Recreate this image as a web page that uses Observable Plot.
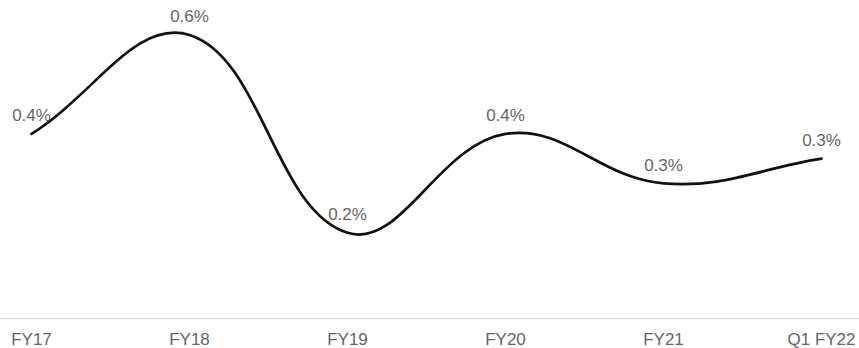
<!DOCTYPE html>
<html>
<head>
<meta charset="utf-8">
<script src="https://cdn.jsdelivr.net/npm/d3@7"></script>
<script src="https://cdn.jsdelivr.net/npm/@observablehq/plot@0.6"></script>
<style>
  html, body { margin: 0; padding: 0; background: #fff; }
  #chart { width: 859px; height: 348px; overflow: hidden; }
</style>
</head>
<body>
<div id="chart"></div>
<script>
const periods = ["FY17", "FY18", "FY19", "FY20", "FY21", "Q1 FY22"];
const values = [0.40, 0.60, 0.20, 0.40, 0.30, 0.35];
const valueLabels = ["0.4%", "0.6%", "0.2%", "0.4%", "0.3%", "0.3%"];

const data = periods.map((p, i) => ({period: p, value: values[i], label: valueLabels[i]}));

// spline with distance-weighted tangents (tension 0.4)
function splineCurve(context) {
  let pts = [];
  const t = 0.4;
  return {
    areaStart() {}, areaEnd() {},
    lineStart() { pts = []; },
    point(x, y) { pts.push([+x, +y]); },
    lineEnd() {
      const n = pts.length;
      if (!n) return;
      const cps = pts.map((cur, i) => {
        const prev = pts[i - 1] || cur, next = pts[i + 1] || cur;
        const d01 = Math.hypot(cur[0] - prev[0], cur[1] - prev[1]);
        const d12 = Math.hypot(next[0] - cur[0], next[1] - cur[1]);
        let s01 = d01 / (d01 + d12), s12 = d12 / (d01 + d12);
        if (!isFinite(s01)) s01 = 0;
        if (!isFinite(s12)) s12 = 0;
        const fa = t * s01, fb = t * s12;
        return {
          prev: [cur[0] - fa * (next[0] - prev[0]), cur[1] - fa * (next[1] - prev[1])],
          next: [cur[0] + fb * (next[0] - prev[0]), cur[1] + fb * (next[1] - prev[1])]
        };
      });
      context.moveTo(pts[0][0], pts[0][1]);
      for (let i = 0; i < n - 1; i++) {
        const a = cps[i].next, b = cps[i + 1].prev, p = pts[i + 1];
        context.bezierCurveTo(a[0], a[1], b[0], b[1], p[0], p[1]);
      }
    }
  };
}

const chart = Plot.plot({
  width: 859,
  height: 348,
  marginLeft: 29,
  marginRight: 36,
  marginTop: 0,
  marginBottom: 30,
  style: {fontFamily: "'Liberation Sans', Arial, sans-serif", background: "#fff"},
  x: {type: "point", domain: periods, padding: 0, label: null},
  y: {domain: [0, 0.6], range: [331.25, 34.5], axis: null},
  marks: [
    Plot.axisX({tickSize: 0, tickPadding: 14, fontSize: 17, fill: "#666", color: "#666", label: null}),
    Plot.line(data, {x: "period", y: "value", curve: splineCurve, stroke: "#111", strokeWidth: 2.7}),
    Plot.text(data, {x: "period", y: "value", text: "label", dy: -18, fontSize: 17, fill: "#666"})
  ]
});
document.getElementById("chart").appendChild(chart);
// light baseline across the full width
d3.select(chart).insert("line", ":first-child")
  .attr("x1", 0).attr("x2", 859).attr("y1", 318.5).attr("y2", 318.5)
  .attr("stroke", "#e2e2e2").attr("stroke-width", 1.5);
</script>
</body>
</html>
